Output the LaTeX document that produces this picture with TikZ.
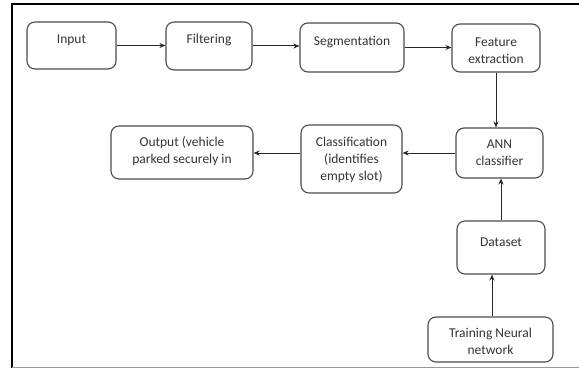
\documentclass[tikz,border=0pt]{standalone}
\usepackage{fontspec}
\setmainfont{Carlito}
\usetikzlibrary{arrows.meta}
\begin{document}
\begin{tikzpicture}[x=1pt,y=-1pt,
  box/.style={draw=black!70, line width=1.1pt, rounded corners=8pt, inner sep=0pt},
  txt/.style={font=\fontsize{13.5}{17}\selectfont, text=black!80, align=center, inner sep=0pt},
  arr/.style={draw=black!85, line width=1pt, -{Stealth[length=6pt,width=5pt]}}]
\useasboundingbox (0,0) rectangle (579,369);
% frame
\draw[black, line width=2.5pt] (12,3.5) -- (12,368);
\draw[black, line width=2pt] (11,4.5) -- (579,4.5);
\draw[black!40, line width=1.5pt] (12,367.5) -- (579,367.5);
% boxes
\node[box, minimum width=89pt, minimum height=47pt] (input) at (71.5,45.5) {};
\node[box, minimum width=86pt, minimum height=48pt] (filtering) at (209,46) {};
\node[box, minimum width=104pt, minimum height=49pt] (segmentation) at (352,47.5) {};
\node[box, minimum width=88pt, minimum height=48pt] (feature) at (496,48) {};
\node[box, minimum width=87pt, minimum height=50pt] (ann) at (499.5,153) {};
\node[box, minimum width=101pt, minimum height=68pt] (classification) at (351.5,159) {};
\node[box, minimum width=142pt, minimum height=53pt] (output) at (182,152.5) {};
\node[box, minimum width=88pt, minimum height=53pt] (dataset) at (501,247.5) {};
\node[box, minimum width=125pt, minimum height=45pt] (training) at (490.5,339.5) {};
% texts
\node[txt] (tinput) at (71.5,40) {Input};
\node[txt] (tfiltering) at (209,40) {Filtering};
\node[txt] (tsegmentation) at (352,42) {Segmentation};
\node[txt] (tfeature) at (496,51) {Feature\\extraction};
\node[txt] (tann) at (499.5,152.5) {ANN\\classifier};
\node[txt] (tclassification) at (351.5,159.5) {Classification\\(identifies\\empty slot)};
\node[txt] (toutput) at (182,151.5) {Output (vehicle\\parked securely in};
\node[txt] (tdataset) at (501,242) {Dataset};
\node[txt] (ttraining) at (490.5,341) {Training Neural\\network};
% connectors
\draw[arr] (input.east) -- (input.east -| filtering.west);
\draw[arr] (filtering.east) -- (filtering.east -| segmentation.west);
\draw[arr] (segmentation.east) -- (segmentation.east -| feature.west);
\draw[arr] (feature.south) -- (feature.south |- ann.north);
\draw[arr] (ann.west) -- (ann.west -| classification.east);
\draw[arr] (classification.west |- ann.west) -- (output.east |- ann.west);
\draw[arr] (dataset.north) -- (dataset.north |- ann.south);
\draw[arr] ([xshift=1.5pt]training.north) -- ([xshift=1.5pt]training.north |- dataset.south);
\end{tikzpicture}
\end{document}
